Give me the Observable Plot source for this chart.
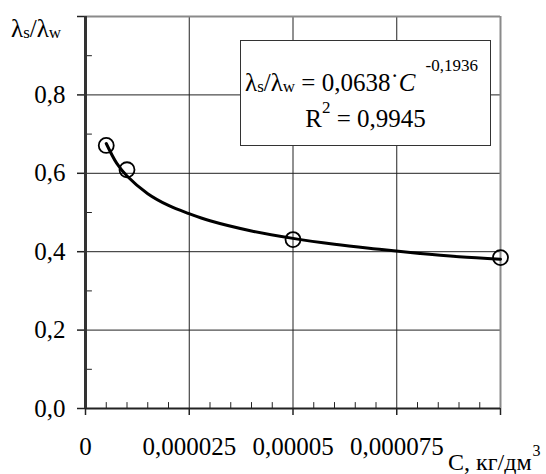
<!DOCTYPE html>
<html>
<head>
<meta charset="utf-8">
<script src="https://cdn.jsdelivr.net/npm/d3@7"></script>
<script src="https://cdn.jsdelivr.net/npm/@observablehq/plot@0.6"></script>
<style>
  body { margin: 0; background: #fff; }
  #chart { width: 546px; height: 474px; }
</style>
</head>
<body>
<div id="chart"></div>
<script>
// Measured points
const measuredC = [0.000005, 0.00001, 0.00005, 0.0001];
const measuredRatio = [0.671, 0.609, 0.431, 0.385];

// Trend line
const trendC = [0.000005, 0.0000075, 0.00001, 0.000015, 0.00002, 0.000025, 0.00003, 0.00004, 0.00005, 0.00006, 0.00007, 0.00008, 0.00009, 0.0001];
const trendRatio = [0.676, 0.626, 0.593, 0.548, 0.518, 0.497, 0.479, 0.453, 0.434, 0.419, 0.407, 0.396, 0.387, 0.381];

// Ticks
const xMajor = [0, 0.000025, 0.00005, 0.000075, 0.0001];
const xMajorLabels = ["0", "0,000025", "0,00005", "0,000075", ""];
const xMinor = [0.000005, 0.00001, 0.000015, 0.00002, 0.00003, 0.000035, 0.00004, 0.000045, 0.000055, 0.00006, 0.000065, 0.00007, 0.00008, 0.000085, 0.00009, 0.000095];
const yMajor = [0, 0.2, 0.4, 0.6, 0.8, 1.0];
const yMajorLabels = ["0,0", "0,2", "0,4", "0,6", "0,8", ""];
const yMinor = [0.1, 0.3, 0.5, 0.7, 0.9];
const xGrid = [0.000025, 0.00005, 0.000075];
const yGrid = [0.2, 0.4, 0.6, 0.8];

// Texts
const yTitle = {main: "λ", sub1: "s", sep: "/λ", sub2: "w"};
const xTitle = {main: "C, кг/дм", sup: "3"};
const eqCoef = "0,0638";
const eqExp = "-0,1936";
const r2 = "0,9945";

const FONT = '"Liberation Serif", "Times New Roman", serif';
const FS = 25;

const measured = measuredC.map((c, i) => ({c, r: measuredRatio[i]}));
const trend = trendC.map((c, i) => ({c, r: trendRatio[i]}));

const tickUp = {draw(ctx, l) { ctx.moveTo(0, 0); ctx.lineTo(0, -l); }};

const svg = Plot.plot({
  width: 546,
  height: 474,
  marginLeft: 85,
  marginRight: 46,
  marginTop: 16,
  marginBottom: 66,
  style: {fontFamily: FONT, fontSize: FS + "px", color: "#000", background: "#fff"},
  x: {domain: [0, 0.0001]},
  y: {domain: [0, 1]},
  marks: [
    Plot.ruleY(yGrid, {stroke: "#222", strokeWidth: 1}),
    Plot.ruleX(xGrid, {stroke: "#222", strokeWidth: 1}),
    Plot.ruleY([1], {stroke: "#8a8a8a", strokeWidth: 2}),
    Plot.ruleX([0.0001], {stroke: "#8a8a8a", strokeWidth: 2}),
    Plot.vector(xMinor, {x: d => d, y: 0, length: 6, rotate: 0, anchor: "start", shape: tickUp, stroke: "#222", strokeWidth: 1}),
    Plot.vector(yMinor, {x: 0, y: d => d, length: 6, rotate: 90, anchor: "start", shape: tickUp, stroke: "#222", strokeWidth: 1}),
    Plot.axisX(xMajor, {tickSize: 7, tickPadding: 22, fontSize: FS, fontFamily: FONT, tickFormat: d => xMajorLabels[xMajor.indexOf(d)], stroke: "#222", strokeWidth: 1.5, label: null}),
    Plot.axisY(yMajor, {tickSize: 8, tickPadding: 12, fontSize: FS, fontFamily: FONT, tickFormat: d => yMajorLabels[yMajor.indexOf(d)], stroke: "#222", strokeWidth: 1.5, label: null}),
    Plot.ruleY([0], {stroke: "#222", strokeWidth: 2}),
    Plot.ruleX([0], {stroke: "#333", strokeWidth: 3}),
    Plot.line(trend, {x: "c", y: "r", stroke: "#000", strokeWidth: 3, curve: "catmull-rom"}),
    Plot.dot(measured, {x: "c", y: "r", r: 7.5, stroke: "#000", strokeWidth: 1.8, fill: "none"})
  ]
});

document.getElementById("chart").appendChild(svg);

const g = d3.select(svg).append("g")
  .attr("font-family", FONT)
  .attr("fill", "#000")
  .attr("text-anchor", "start")
  .style("text-anchor", "start");

// Y axis title
const yt = g.append("text").attr("x", 11).attr("y", 37).attr("font-size", FS);
yt.append("tspan").text(yTitle.main);
yt.append("tspan").attr("font-size", 17).attr("dy", 1).text(yTitle.sub1);
yt.append("tspan").attr("dy", -1).text(yTitle.sep);
yt.append("tspan").attr("font-size", 17).attr("dy", 1).text(yTitle.sub2);

// X axis title
const xt = g.append("text").attr("x", 448).attr("y", 470).attr("font-size", 24);
xt.append("tspan").text(xTitle.main);
xt.append("tspan").attr("font-size", 16).attr("dy", -14).attr("dx", 1).text(xTitle.sup);

// Legend box
g.append("rect").attr("x", 240.5).attr("y", 40.5).attr("width", 250).attr("height", 105)
  .attr("fill", "#fff").attr("stroke", "#333").attr("stroke-width", 1);

const l1 = g.append("text").attr("x", 245).attr("y", 91).attr("font-size", FS);
l1.append("tspan").text("λ");
l1.append("tspan").attr("font-size", 17).attr("dy", 1).text("s");
l1.append("tspan").attr("dy", -1).text("/λ");
l1.append("tspan").attr("font-size", 17).attr("dy", 1).text("w");
l1.append("tspan").attr("dy", -1).text(" = " + eqCoef);
l1.append("tspan").text("˙");
l1.append("tspan").attr("font-style", "italic").text("C");
l1.append("tspan").attr("font-size", 17).attr("dy", -20).attr("dx", 10).text(eqExp);

const l2 = g.append("text").attr("x", 365.5).attr("y", 127).attr("font-size", FS)
  .attr("text-anchor", "middle").style("text-anchor", "middle");
l2.append("tspan").text("R");
l2.append("tspan").attr("font-size", 17).attr("dy", -14).text("2");
l2.append("tspan").attr("dy", 14).text(" = " + r2);
</script>
</body>
</html>
